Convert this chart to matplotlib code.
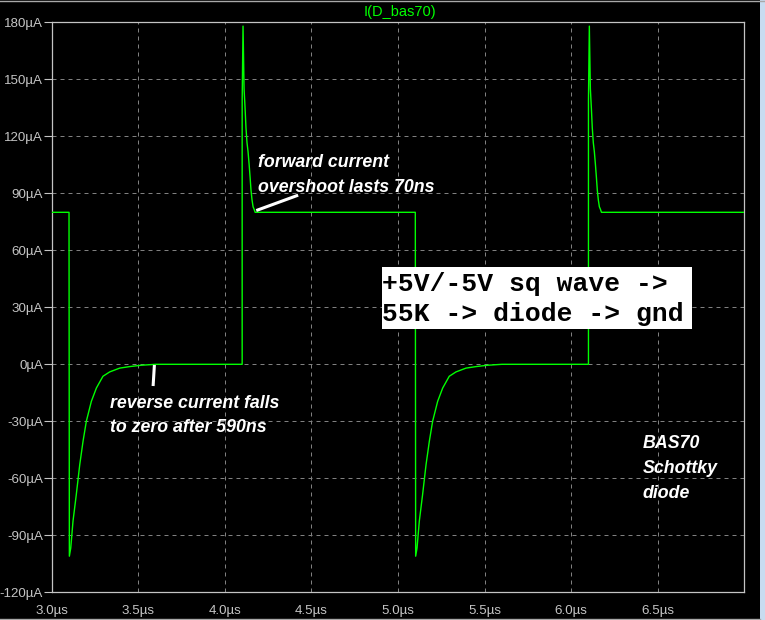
import matplotlib
matplotlib.use('Agg')
import matplotlib.pyplot as plt
from matplotlib.patches import Rectangle
from matplotlib.lines import Line2D

# ---------------- data ----------------
t_start, t_end = 3.0, 7.0          # µs
forward_level = 80                 # µA
reverse_edges = [3.1, 5.1]         # µs, +5V -> -5V transitions
forward_edges = [4.1, 6.1]         # µs, -5V -> +5V transitions

# reverse-recovery shape after each falling edge (dt in µs, current in µA)
rec_dt = [0.000, 0.002, 0.010, 0.023, 0.042, 0.062, 0.081, 0.100, 0.129,
          0.158, 0.196, 0.235, 0.293, 0.351, 0.417, 0.500]
rec_I = [80, -101, -96.7, -82.6, -68.6, -52.8, -40.5, -30.0, -19.5,
         -12.5, -6.3, -4.0, -2.0, -1.2, -0.5, 0.0]

# forward overshoot shape after each rising edge
spk_dt = [0.000, 0.000, 0.005, 0.011, 0.017, 0.022, 0.028, 0.034, 0.040,
          0.046, 0.051, 0.057, 0.063, 0.069, 0.075]
spk_I = [0.0, 139, 178, 145, 134.4, 124.5, 116.6, 111.9, 105.4,
         98.2, 91.7, 86.5, 82.9, 81.6, 80]

y_ticks = [180, 150, 120, 90, 60, 30, 0, -30, -60, -90, -120]
y_labels = ['180µA', '150µA', '120µA', '90µA', '60µA', '30µA', '0µA',
            '-30µA', '-60µA', '-90µA', '-120µA']
x_ticks = [3.0, 3.5, 4.0, 4.5, 5.0, 5.5, 6.0, 6.5]
x_labels = ['3.0µs', '3.5µs', '4.0µs', '4.5µs', '5.0µs', '5.5µs', '6.0µs', '6.5µs']

title = 'I(D_bas70)'
note_fwd = ['forward current', 'overshoot lasts 70ns']
note_rev = ['reverse current falls', 'to zero after 590ns']
note_part = ['BAS70', 'Schottky', 'diode']
note_box = ['+5V/-5V sq wave ->', '55K -> diode -> gnd']

# ---------------- build the trace ----------------
t = [t_start]
I = [forward_level]
for re_, fe_ in zip(reverse_edges, forward_edges):
    for dt, v in zip(rec_dt, rec_I):
        t.append(re_ + dt); I.append(v)
    for dt, v in zip(spk_dt, spk_I):
        t.append(fe_ + dt); I.append(v)
t.append(t_end); I.append(forward_level)

# ---------------- figure ----------------
W, H = 765, 620
fig = plt.figure(figsize=(W / 100, H / 100), dpi=100, facecolor='black')

def fx(px):
    return px / W

def fy(py):
    return 1 - py / H

L, R, T, B = 51.7, 744.3, 22.3, 592.3
ax = fig.add_axes([fx(L), fy(B), (R - L) / W, (B - T) / H])
ax.set_facecolor('black')
ax.plot(t, I, color='#00ff00', lw=1.0, zorder=3)
ax.set_xlim(t_start, t_end)
ax.set_ylim(-120, 180)

tick_font = ['Liberation Sans Narrow', 'Liberation Sans', 'DejaVu Sans']
ax.set_yticks(y_ticks)
ax.set_yticklabels(y_labels, family=tick_font, fontsize=9.6, color='#c4c4c4')
ax.set_xticks(x_ticks)
ax.set_xticklabels(x_labels, family=tick_font, fontsize=9.6, color='#c4c4c4')
ax.tick_params(axis='y', length=6, width=0.8, color='#c4c4c4', pad=0.3)
ax.tick_params(axis='x', length=0, pad=9.3)
ax.grid(True, color='#808080', lw=0.72, linestyle=(0, (4, 4)))
for s in ax.spines.values():
    s.set_color('#c4c4c4')
    s.set_linewidth(0.9)

# title
fig.text(fx(400), fy(12), title, color='#00ff00', family=tick_font,
         fontsize=10.5, ha='center', va='center')

ann_font = ['Liberation Sans', 'DejaVu Sans']
def lines_text(x, baselines, texts, **kw):
    for yb, s in zip(baselines, texts):
        fig.text(fx(x), fy(yb), s, ha='left', va='baseline', zorder=6, **kw)

ann_kw = dict(color='white', family=ann_font, fontsize=12.8,
              fontweight='bold', fontstyle='italic')
lines_text(258.5, [166.7, 191.7], note_fwd, **ann_kw)
lines_text(109.5, [408.3, 431.7], note_rev, **ann_kw)
lines_text(642.5, [448.3, 473.3, 497.7], note_part, **ann_kw)

# pointer lines
fig.add_artist(Line2D([fx(257.7), fx(296.7)], [fy(210), fy(195.7)],
                      color='white', lw=2.2, zorder=6))
fig.add_artist(Line2D([fx(154.3), fx(153.2)], [fy(366.5), fy(384.5)],
                      color='white', lw=2.2, zorder=6))

# boxed note
fig.add_artist(Rectangle((fx(382.3), fy(329)), (691.7 - 382.3) / W,
                         (329 - 266.7) / H, transform=fig.transFigure,
                         facecolor='white', edgecolor='none', zorder=5))
box_kw = dict(color='black', family=['Liberation Mono', 'DejaVu Sans Mono'],
              fontsize=19, fontweight='bold')
lines_text(382.5, [290.7, 320.7], note_box, **box_kw)

# window border
fig.add_artist(Line2D([0, 1], [fy(0.5), fy(0.5)], color='#a8a8a8', lw=1))
fig.add_artist(Line2D([0, fx(760)], [fy(618.5), fy(618.5)], color='#a8a8a8', lw=1))
fig.add_artist(Rectangle((fx(760), 0), 5 / W, 1, transform=fig.transFigure,
                         facecolor='#c8dcf0', edgecolor='none'))

fig.savefig('out.png', dpi=100, facecolor='black')
